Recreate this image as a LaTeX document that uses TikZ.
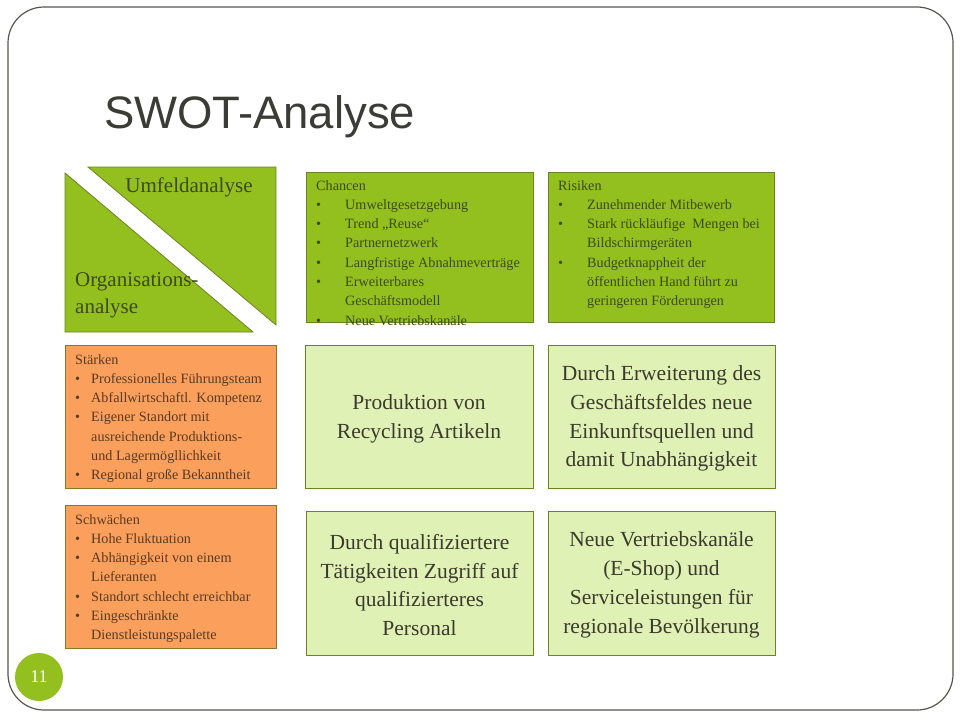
\documentclass[tikz,border=0pt]{standalone}
\usepackage{fontspec}
\setmainfont{Liberation Serif}
\newfontfamily\titlefont{Liberation Sans}
\usetikzlibrary{positioning}
\usetikzlibrary{calc}

\definecolor{framegray}{HTML}{55574F}
\definecolor{titlegray}{HTML}{3B3C36}
\definecolor{swotgreen}{HTML}{93C01F}
\definecolor{palegreen}{HTML}{E0F1B6}
\definecolor{swotorange}{HTML}{FAA05C}
\definecolor{greenline}{HTML}{6A8420}
\definecolor{orangeline}{HTML}{8C7428}
\definecolor{greentext}{HTML}{3C4A14}
\definecolor{orangetext}{HTML}{5A3A22}
\definecolor{paletext}{HTML}{3A3B2C}

\newcommand\bul[1][29pt]{\makebox[#1][l]{\textbullet}}
\newcommand\ind[1][29pt]{\hspace*{#1}}

\tikzset{
  box/.style={draw, line width=0.8pt, inner sep=0pt, outer sep=0pt, anchor=north west},
  greenbox/.style={box, draw=greenline, fill=swotgreen},
  orangebox/.style={box, draw=orangeline, fill=swotorange},
  palebox/.style={box, draw=greenline, fill=palegreen},
  listtext/.style={anchor=north west, inner sep=0pt, align=left,
    font=\fontsize{14.2}{19.3}\selectfont},
  bigtext/.style={inner sep=0pt, align=center, text=paletext,
    font=\fontsize{21.5}{28.8}\selectfont}
}

\begin{document}
\begin{tikzpicture}[x=1pt,y=-1pt]
  \useasboundingbox (0,0) rectangle (960,720);
  \draw [framegray, line width=1.2pt, rounded corners=36pt] (8,7) rectangle (953,710);
  \node [anchor=base west, inner sep=0pt, text=titlegray,
    font=\titlefont\fontsize{45.5}{50}\selectfont] (title) at (104,128) {SWOT-Analyse};

  % Umfeld / Organisation
  \coordinate (U1) at (88,167);
  \coordinate (U2) at (276,167);
  \coordinate (U3) at (276,325);
  \coordinate (O1) at (65,173);
  \coordinate (O2) at (65,332);
  \coordinate (O3) at (253,332);
  \draw [greenline, fill=swotgreen, line width=0.8pt] (U1) -- (U2) -- (U3) -- cycle;
  \draw [greenline, fill=swotgreen, line width=0.8pt] (O1) -- (O2) -- (O3) -- cycle;
  \node [inner sep=0pt, text=greentext, font=\fontsize{21}{27}\selectfont] (umfeld) at (189,187) {Umfeldanalyse};
  \node [anchor=north west, inner sep=0pt, align=left, text=greentext,
    font=\fontsize{21}{27}\selectfont] (orga) at (75,272) {Organisations-\\analyse};

  % Chancen und Risiken
  \node [greenbox, minimum width=227pt, minimum height=150pt] (chancen) at (306,172) {};
  \node [greenbox, minimum width=226pt, minimum height=150pt] (risiken) at (548,172) {};
  \node [listtext, text=greentext] (chancenlist) at (316,180) {Chancen\\
    \bul Umweltgesetzgebung\\
    \bul Trend „Reuse“\\
    \bul Partnernetzwerk\\
    \bul Langfristige Abnahmeverträge\\
    \bul Erweiterbares\\
    \ind Geschäftsmodell\\
    \bul Neue Vertriebskanäle};
  \node [listtext, text=greentext] (risikenlist) at (558,180) {Risiken\\
    \bul Zunehmender Mitbewerb\\
    \bul Stark rückläufige\ \ Mengen bei\\
    \ind Bildschirmgeräten\\
    \bul Budgetknappheit der\\
    \ind öffentlichen Hand führt zu\\
    \ind geringeren Förderungen};

  % Staerken und Schwaechen
  \node [orangebox, minimum width=211pt, minimum height=143pt] (staerken) at (65,345) {};
  \node [orangebox, minimum width=211pt, minimum height=143pt] (schwaechen) at (65,505) {};
  \node [listtext, text=orangetext] (staerkenlist) at (75,354) {Stärken\\
    \bul[16pt]Professionelles Führungsteam\\
    \bul[16pt]Abfallwirtschaftl. Kompetenz\\
    \bul[16pt]Eigener Standort mit\\
    \ind[16pt]ausreichende Produktions-\\
    \ind[16pt]und Lagermögllichkeit\\
    \bul[16pt]Regional große Bekanntheit};
  \node [listtext, text=orangetext] (schwaechenlist) at (75,514) {Schwächen\\
    \bul[16pt]Hohe Fluktuation\\
    \bul[16pt]Abhängigkeit von einem\\
    \ind[16pt]Lieferanten\\
    \bul[16pt]Standort schlecht erreichbar\\
    \bul[16pt]Eingeschränkte\\
    \ind[16pt]Dienstleistungspalette};

  % Strategien
  \node [palebox, minimum width=228pt, minimum height=143pt] (so) at (305,345) {};
  \node [palebox, minimum width=227pt, minimum height=143pt] (st) at (548,345) {};
  \node [palebox, minimum width=227pt, minimum height=144pt] (wo) at (306,511) {};
  \node [palebox, minimum width=227pt, minimum height=144pt] (wt) at (548,511) {};
  \node [bigtext] at ([yshift=-2pt]so.center) {Produktion von\\Recycling Artikeln};
  \node [bigtext] at ([yshift=-2pt]st.center) {Durch Erweiterung des\\Geschäftsfeldes neue\\Einkunftsquellen und\\damit Unabhängigkeit};
  \node [bigtext] at ([yshift=-2pt]wo.center) {Durch qualifiziertere\\Tätigkeiten Zugriff auf\\qualifizierteres\\Personal};
  \node [bigtext] at ([yshift=-2pt]wt.center) {Neue Vertriebskanäle\\(E-Shop) und\\Serviceleistungen für\\regionale Bevölkerung};

  % Seitenzahl
  \node [circle, fill=swotgreen, minimum size=48pt, inner sep=0pt, text=white,
    font=\fontsize{18}{20}\selectfont] (page) at (39,677) {11};
\end{tikzpicture}
\end{document}
